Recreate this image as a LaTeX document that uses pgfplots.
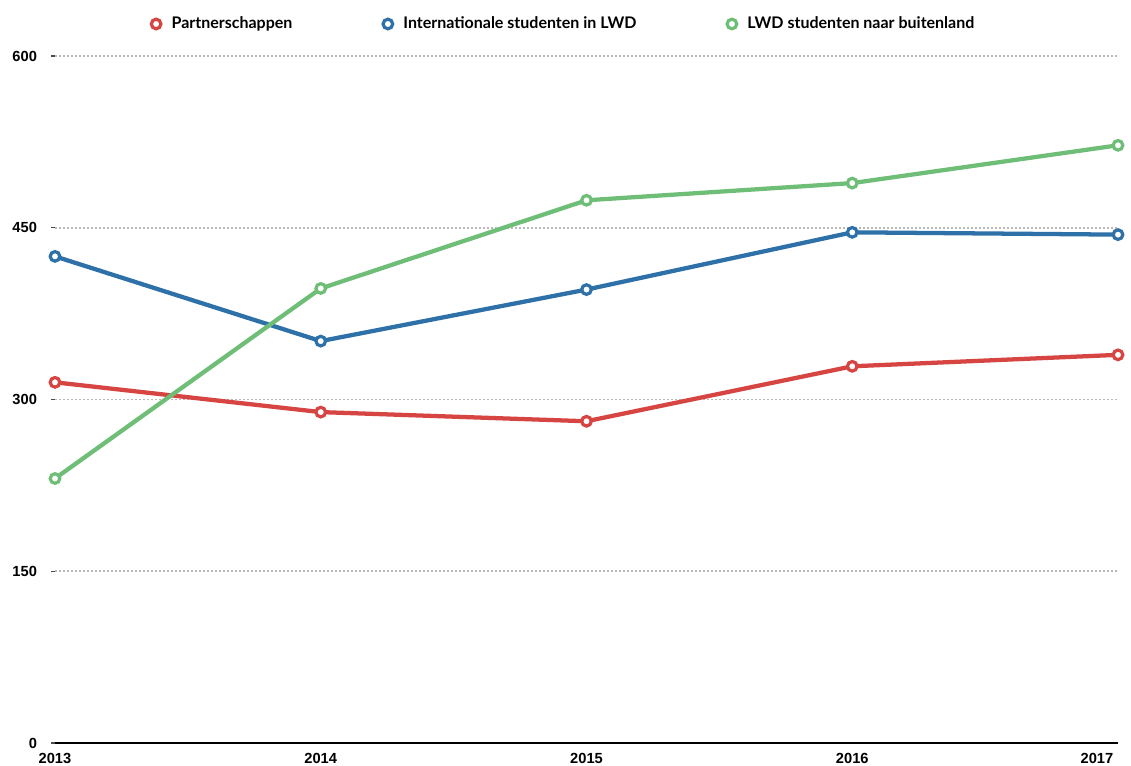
\documentclass[border=0pt]{standalone}
\usepackage{fontspec}
\setmainfont{Liberation Sans}
\newfontfamily\legfont{Lato}
\usepackage{pgfplots}
\pgfplotsset{compat=1.18}
\definecolor{cred}{HTML}{D64541}
\definecolor{cblue}{HTML}{2E70A8}
\definecolor{cgreen}{HTML}{6EBE78}
\begin{document}
\begin{tikzpicture}
\begin{axis}[
  scale only axis, width=797.25pt, height=515.25pt,
  xmin=2013, xmax=2017, ymin=0, ymax=600,
  clip=false,
  axis x line*=bottom, axis y line*=left,
  y axis line style={draw=none},
  x axis line style={black, line width=1pt, -},
  xtick={2013,2014,2015,2016},
  xticklabels={2013,2014,2015,2016},
  extra x ticks={2017}, extra x tick labels={2017},
  extra x tick style={xticklabel style={anchor=north east}},
  xtick style={draw=none},
  ytick={0,150,300,450,600},
  ytick style={black!70, line width=1pt},
  major tick length=3pt, tick align=outside,
  ymajorgrids,
  grid style={black!28, line width=1.3pt, dash pattern=on 1.3pt off 1.7pt},
  /pgf/number format/assume math mode=true,
  /pgf/number format/1000 sep={},
  tick label style={font=\fontsize{11}{13}\selectfont\bfseries},
  yticklabel style={xshift=-7pt},
  xticklabel style={yshift=-1pt},
  legend columns=3,
  legend style={at={(0.479,1)}, anchor=center, yshift=24pt, draw=none,
    font=\legfont\fontsize{12}{14}\selectfont\bfseries,
    /tikz/every odd column/.append style={column sep=6pt},
    /tikz/every even column/.append style={column sep=66pt}},
  legend image code/.code={\draw[#1, only marks] plot coordinates {(0pt,0pt)};},
  every axis plot/.append style={line width=3.2pt},
]
\addplot[cred, mark=*, mark size=3.6pt, mark options={fill=white, draw=cred, line width=2.4pt}]
  coordinates {(2013,315)(2014,289)(2015,281)(2016,329)(2017,339)};
\addlegendentry{Partnerschappen}
\addplot[cblue, mark=*, mark size=3.6pt, mark options={fill=white, draw=cblue, line width=2.4pt}]
  coordinates {(2013,425)(2014,351)(2015,396)(2016,446)(2017,444)};
\addlegendentry{Internationale studenten in LWD}
\addplot[cgreen, mark=*, mark size=3.6pt, mark options={fill=white, draw=cgreen, line width=2.4pt}]
  coordinates {(2013,231)(2014,397)(2015,474)(2016,489)(2017,522)};
\addlegendentry{LWD studenten naar buitenland}
\coordinate (ll) at (rel axis cs:0,0);
\coordinate (ur) at (rel axis cs:1,1);
\end{axis}
\pgfresetboundingbox
\path ([shift={(-41.25pt,-16.5pt)}]ll) rectangle ([shift={(9.75pt,42pt)}]ur);
\end{tikzpicture}
\end{document}
